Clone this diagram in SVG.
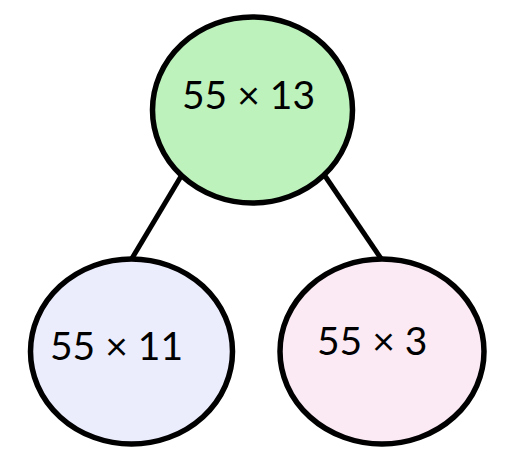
<svg xmlns="http://www.w3.org/2000/svg" width="519" height="470" viewBox="0 0 519 470">
<style>
.n{stroke:#000;stroke-width:5.5}
.t{font-family:"Lato","Liberation Sans",sans-serif;font-size:39px;fill:#000}
.e{stroke:#000;stroke-width:5;fill:none}
</style>
<rect width="519" height="470" fill="#fff"/>
<g id="connectors">
<line class="e" x1="183" y1="173" x2="131" y2="260"/>
<line class="e" x1="323" y1="173" x2="382" y2="260"/>
</g>
<g id="top">
<ellipse class="n" cx="252.5" cy="110" rx="100" ry="93" fill="#bdf2bd"/>
<text class="t" x="182" y="109">55 × 13</text>
</g>
<g id="left">
<ellipse class="n" cx="131.5" cy="351.5" rx="101" ry="92.5" fill="#ebedfc"/>
<text class="t" x="50" y="360">55 × 11</text>
</g>
<g id="right">
<ellipse class="n" cx="382" cy="351.5" rx="102" ry="92.5" fill="#fbeaf4"/>
<text class="t" x="317" y="355">55 × 3</text>
</g>
</svg>
